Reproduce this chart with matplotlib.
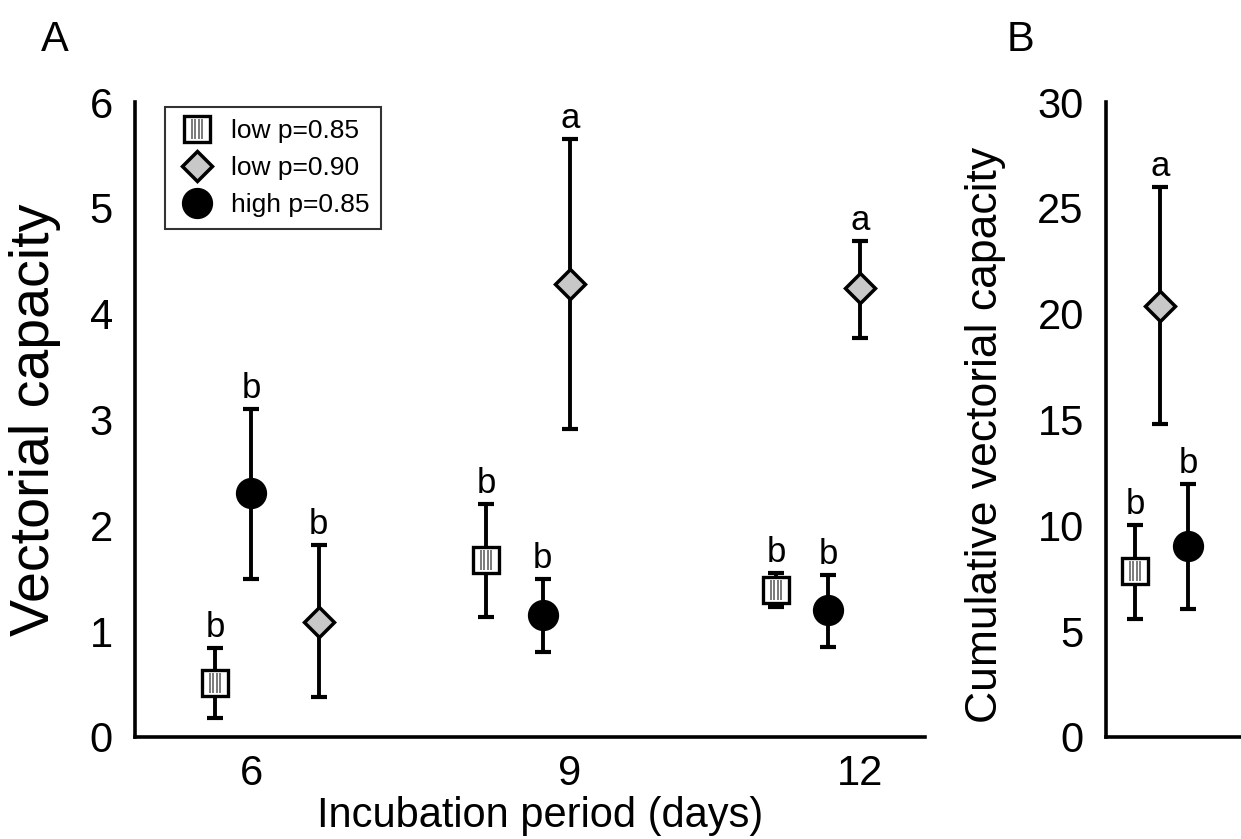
import numpy as np
import matplotlib
matplotlib.use("Agg")
import matplotlib.pyplot as plt
from matplotlib.path import Path
from matplotlib.lines import Line2D

plt.rcParams['font.family'] = ['Liberation Sans', 'DejaVu Sans']

# ---------------- data ----------------
periods = ['6', '9', '12']
series_labels = ['low p=0.85', 'low p=0.90', 'high p=0.85']

low085_mean = [0.51, 1.67, 1.39]
low085_upper = [0.84, 2.20, 1.55]
low085_lower = [0.18, 1.13, 1.23]
low085_letters = ['b', 'b', 'b']

low090_mean = [1.09, 4.28, 4.24]
low090_upper = [1.81, 5.65, 4.69]
low090_lower = [0.38, 2.91, 3.77]
low090_letters = ['b', 'a', 'a']

high085_mean = [2.31, 1.15, 1.20]
high085_upper = [3.10, 1.49, 1.53]
high085_lower = [1.49, 0.80, 0.85]
high085_letters = ['b', 'b', 'b']

cum_mean = [7.82, 20.36, 9.04]      # low 0.85, low 0.90, high 0.85
cum_upper = [10.00, 25.99, 11.97]
cum_lower = [5.58, 14.77, 6.06]
cum_letters = ['b', 'a', 'b']

# ---------------- layout (positions / styles) ----------------
group_pos = np.array([0.0, 1.047, 2.0])
offsets_A = {
    'low085': np.array([-0.118, -0.276, -0.277]),
    'low090': np.array([0.222, 0.0, 0.0]),
    'high085': np.array([0.0, -0.090, -0.105]),
}
pos_B = {'low085': 0.215, 'low090': 0.40, 'high085': 0.607}

W, H = 1241, 839
fig = plt.figure(figsize=(W / 100, H / 100), dpi=100)

def fx(px):
    return px / W

def fy(py):
    return 1 - py / H

axA = fig.add_axes([fx(135), fy(737), (925 - 135) / W, (737 - 102) / H])
axB = fig.add_axes([fx(1106), fy(737), (1241 - 1106) / W, (737 - 102) / H])

hatch_path = Path(
    [(-0.5, -0.5), (0.5, 0.5),
     (-0.21, -0.40), (-0.21, 0.40),
     (-0.07, -0.40), (-0.07, 0.40),
     (0.07, -0.40), (0.07, 0.40),
     (0.21, -0.40), (0.21, 0.40)],
    [Path.MOVETO, Path.MOVETO,
     Path.MOVETO, Path.LINETO,
     Path.MOVETO, Path.LINETO,
     Path.MOVETO, Path.LINETO,
     Path.MOVETO, Path.LINETO])

styles = {
    'low085': dict(marker='s', markersize=18.5, markerfacecolor='white',
                   markeredgecolor='black', markeredgewidth=2.4),
    'low090': dict(marker='D', markersize=15, markerfacecolor='#c8c8c8',
                   markeredgecolor='black', markeredgewidth=2.5),
    'high085': dict(marker='o', markersize=21.5, markerfacecolor='black',
                    markeredgecolor='black', markeredgewidth=1),
}
hatch_style = dict(marker=hatch_path, markersize=18.5, markerfacecolor='none',
                   markeredgecolor='#7a7a7a', markeredgewidth=1.4)

def draw_series(ax, x, mean, lower, upper, letters, key):
    mean = np.asarray(mean, float)
    lower = np.asarray(lower, float)
    upper = np.asarray(upper, float)
    x = np.atleast_1d(x)
    ax.errorbar(x, mean, yerr=[mean - lower, upper - mean], fmt='none',
                ecolor='black', elinewidth=2.8, capsize=5.5, capthick=3,
                zorder=2)
    ax.plot(x, mean, linestyle='none', zorder=3, **styles[key])
    if key == 'low085':
        ax.plot(x, mean, linestyle='none', zorder=4, **hatch_style)
    for xi, ui, lt in zip(x, upper, letters):
        ax.annotate(lt, (xi, ui), xytext=(0, 8), textcoords='offset points',
                    ha='center', va='baseline', fontsize=25)

# Panel A
draw_series(axA, group_pos + offsets_A['low085'], low085_mean, low085_lower,
            low085_upper, low085_letters, 'low085')
draw_series(axA, group_pos + offsets_A['low090'], low090_mean, low090_lower,
            low090_upper, low090_letters, 'low090')
draw_series(axA, group_pos + offsets_A['high085'], high085_mean, high085_lower,
            high085_upper, high085_letters, 'high085')

axA.set_xlim(-0.381, 2.212)
axA.set_ylim(0, 6)
axA.set_yticks(range(0, 7))
axA.set_xticks(group_pos)
axA.set_xticklabels(periods)

# Panel B
keys = ['low085', 'low090', 'high085']
for i, key in enumerate(keys):
    draw_series(axB, pos_B[key], [cum_mean[i]], [cum_lower[i]], [cum_upper[i]],
                [cum_letters[i]], key)
axB.set_xlim(0, 1)
axB.set_ylim(0, 30)
axB.set_yticks(range(0, 31, 5))
axB.set_xticks([])

for ax in (axA, axB):
    for s in ('top', 'right'):
        ax.spines[s].set_visible(False)
    for s in ('left', 'bottom'):
        ax.spines[s].set_linewidth(2.6)
    ax.tick_params(axis='y', length=0, labelsize=30, pad=16)
    ax.tick_params(axis='x', length=0, labelsize=30, pad=12)
    ax.set_facecolor('none')

# Legend
h_sq = Line2D([], [], linestyle='none', **styles['low085'])
h_hatch = Line2D([], [], linestyle='none', **hatch_style)
h_d = Line2D([], [], linestyle='none', **styles['low090'])
h_c = Line2D([], [], linestyle='none', **styles['high085'])
leg = axA.legend([(h_sq, h_hatch), h_d, h_c], series_labels,
                 loc='upper left', bbox_to_anchor=(0.038, 0.992),
                 borderaxespad=0, fontsize=19, frameon=True, fancybox=False,
                 edgecolor='black', handlelength=1.5, handletextpad=0.55,
                 borderpad=0.45, labelspacing=0.5)
leg.get_frame().set_linewidth(1.5)

# Texts
fig.text(fx(35), fy(420), 'Vectorial capacity', rotation=90, ha='center',
         va='center', fontsize=40)
fig.text(fx(986), fy(435), 'Cumulative vectorial capacity', rotation=90,
         ha='center', va='center', fontsize=32)
fig.text(fx(540), fy(816), 'Incubation period (days)', ha='center',
         va='center', fontsize=30)
fig.text(fx(55), fy(40), 'A', ha='center', va='center', fontsize=30)
fig.text(fx(1020), fy(40), 'B', ha='center', va='center', fontsize=30)

fig.savefig('out.png', dpi=100)
